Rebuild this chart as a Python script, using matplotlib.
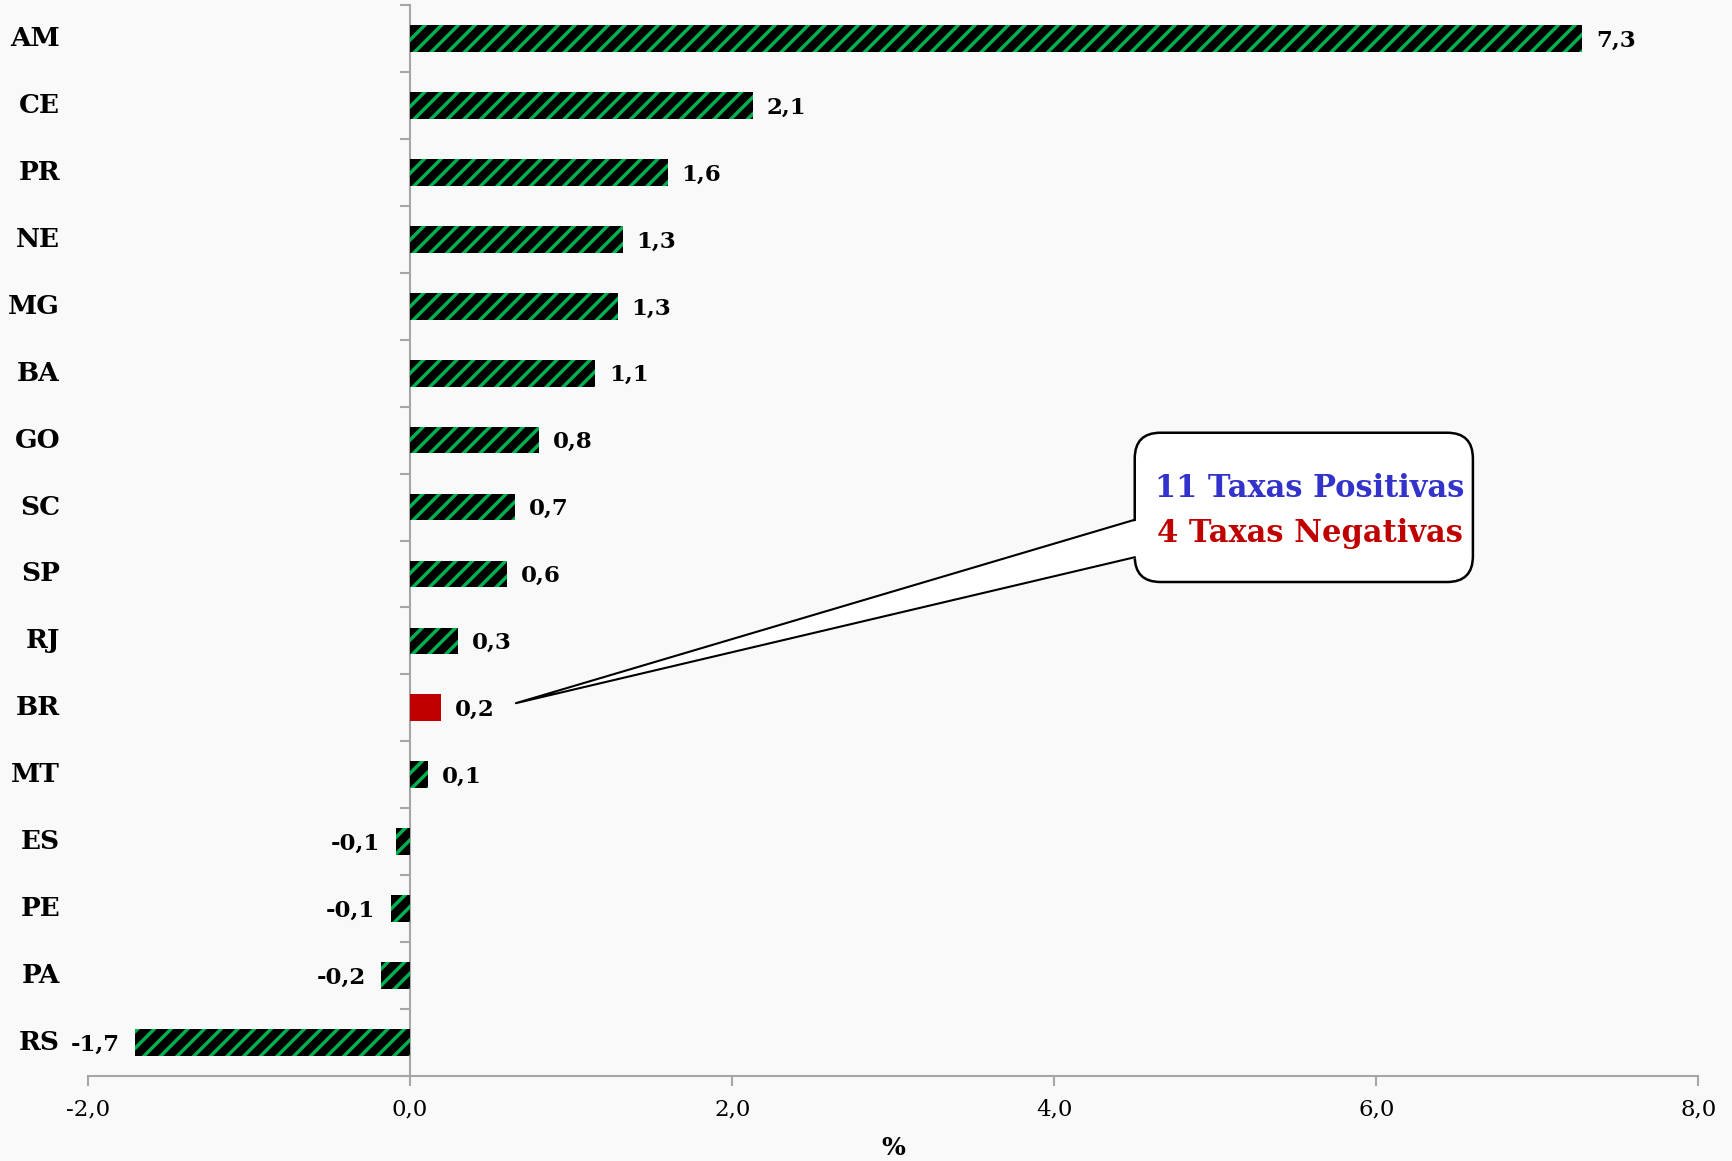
import matplotlib.pyplot as plt
from matplotlib.patches import FancyBboxPatch, Polygon
import matplotlib.transforms as mtransforms

plt.rcParams['font.family'] = ['DejaVu Serif']
plt.rcParams['hatch.linewidth'] = 2.5

states = ['AM', 'CE', 'PR', 'NE', 'MG', 'BA', 'GO', 'SC', 'SP', 'RJ', 'BR', 'MT', 'ES', 'PE', 'PA', 'RS']
values = [7.3, 2.1, 1.6, 1.3, 1.3, 1.1, 0.8, 0.7, 0.6, 0.3, 0.2, 0.1, -0.1, -0.1, -0.2, -1.7]
# bar lengths as drawn (labels are rounded)
lengths = [7.28, 2.13, 1.60, 1.32, 1.29, 1.15, 0.80, 0.65, 0.60, 0.30, 0.19, 0.11, -0.09, -0.12, -0.18, -1.71]
xticks = [-2, 0, 2, 4, 6, 8]

bg = '#f9f9f9'
green = '#00b050'
red = '#c00000'
grey = '#a6a6a6'

fig = plt.figure(figsize=(17.33, 11.61), dpi=100, facecolor=bg)
ax = fig.add_axes([0.0508, 0.0732, 0.9292, 0.9225])
ax.set_facecolor(bg)

for i, (s, v) in enumerate(zip(states, lengths)):
    if s == 'BR':
        ax.barh(i, v, height=0.4, color=red, linewidth=0, zorder=3)
    else:
        ax.barh(i, v, height=0.4, facecolor='black', edgecolor=green,
                hatch='//', linewidth=0, zorder=3)

for i, (v, l) in enumerate(zip(values, lengths)):
    txt = f'{v:.1f}'.replace('.', ',')
    if v >= 0:
        ax.annotate(txt, (l, i), xytext=(10, -1.5), textcoords='offset points',
                    ha='left', va='center', fontsize=16.5, fontweight='bold')
    else:
        ax.annotate(txt, (l, i), xytext=(-11, -1.5), textcoords='offset points',
                    ha='right', va='center', fontsize=16.5, fontweight='bold')

trans = mtransforms.blended_transform_factory(ax.transAxes, ax.transData)
for i, s in enumerate(states):
    ax.text(-0.0174, i, s, transform=trans, ha='right', va='center',
            fontsize=19, fontweight='bold')

ax.set_xlim(-2, 8)
ax.set_ylim(len(states) - 0.5, -0.5)
ax.set_xticks(xticks)
ax.set_xticklabels([f'{t:.1f}'.replace('.', ',') for t in xticks], fontsize=16.5)
ax.set_xlabel('%', fontsize=18, fontweight='bold', labelpad=11)

ax.spines['top'].set_visible(False)
ax.spines['right'].set_visible(False)
ax.spines['left'].set_position(('data', 0))
ax.spines['left'].set_color(grey)
ax.spines['left'].set_linewidth(1.5)
ax.spines['bottom'].set_color(grey)
ax.spines['bottom'].set_linewidth(1.5)
ax.set_yticks([])
ax.set_yticks([i + 0.5 for i in range(-1, len(states))], minor=True)
ax.tick_params(axis='y', which='minor', length=7, width=1.5, color=grey, direction='out')
ax.tick_params(axis='x', length=7, width=1.5, color=grey, pad=9)

# callout box
box = FancyBboxPatch((4.50, 5.89), 2.10, 2.23,
                     boxstyle='round,pad=0,rounding_size=0.16',
                     mutation_aspect=2.41, facecolor='white',
                     edgecolor='black', linewidth=1.8, zorder=5)
ax.add_patch(box)
wedge = Polygon([(4.53, 7.19), (0.657, 9.93), (4.53, 7.75)], closed=True,
                facecolor='white', edgecolor='none', zorder=6)
ax.add_patch(wedge)
ax.plot([4.50, 0.657, 4.50], [7.19, 9.93, 7.75], color='black', linewidth=1.5, zorder=7)
ax.text(5.585, 6.72, '11 Taxas Positivas', ha='center', va='center',
        fontsize=22, fontweight='bold', color='#3333cc', zorder=8)
ax.text(5.585, 7.40, '4 Taxas Negativas', ha='center', va='center',
        fontsize=22, fontweight='bold', color=red, zorder=8)

fig.savefig('out.png', dpi=100, facecolor=bg)
